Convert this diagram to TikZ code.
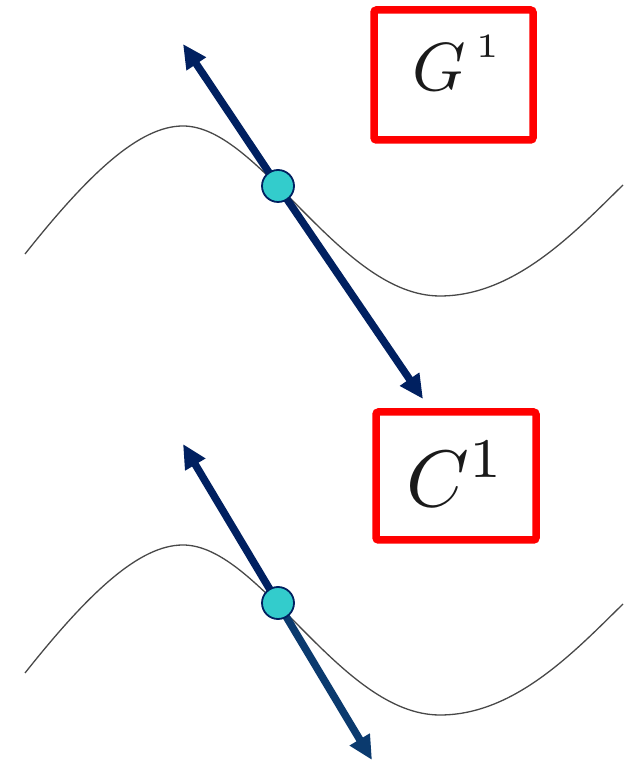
\documentclass[tikz,border=0pt]{standalone}
\usepackage{amsmath}
\usepackage{xcolor}
\usetikzlibrary{arrows.meta, positioning}
\definecolor{ink}{HTML}{1A1A1A}
\definecolor{navyA}{HTML}{002060}
\definecolor{navyB}{HTML}{0B3A6E}
\definecolor{tealA}{HTML}{33CCCC}
\definecolor{redA}{HTML}{FF0000}
\tikzset{
  wave/.style={draw=ink!80, line width=1.3pt},
  vec/.style={draw=navyA, line width=7.5pt, -{Triangle[length=24pt, width=22pt]}},
  dot/.style={circle, draw=navyA, line width=1.8pt, fill=tealA, minimum size=32pt, inner sep=0pt},
  redbox/.style={draw=redA, line width=7.5pt, rounded corners=2.5pt, minimum width=159pt, minimum height=130pt, inner sep=0pt},
  bigmath/.style={text=ink, inner sep=0pt, transform shape}
}

\begin{document}
\begin{tikzpicture}[x=1pt,y=1pt]
\useasboundingbox (0,0) rectangle (630,762);

% upper panel
\draw[wave] (25,508) .. controls (90,590) and (140,636) .. (183,636)
  .. controls (260,636) and (340,466) .. (440,466)
  .. controls (515,466) and (575,530) .. (623,577);
\coordinate (gp) at (278,576);
\coordinate (gtop) at (183,718);
\coordinate (gbot) at (423,363);
\draw[vec] (gp) -- (gtop);
\draw[vec] (gp) -- (gbot);
\node[dot] (gdot) at (gp) {};

\node[redbox] (gbox) at (453.5,687) {};
\node[bigmath, scale=6.8] (glabel) at ([xshift=4pt, yshift=12pt]gbox.center) {$G^{\,\raisebox{1.2pt}{$\scriptscriptstyle 1$}}$};

% lower panel
\draw[wave, shift={(0,-419)}] (25,508) .. controls (90,590) and (140,636) .. (183,636)
  .. controls (260,636) and (340,466) .. (440,466)
  .. controls (515,466) and (575,530) .. (623,577);
\coordinate (cp) at (278,159);
\coordinate (ctop) at (183,318);
\coordinate (cbot) at (372,2);
\draw[vec] (cp) -- (ctop);
\draw[vec, draw=navyB] (cp) -- (cbot);
\node[dot] (cdot) at (cp) {};

\node[redbox, minimum width=160pt, minimum height=128pt] (cbox) at (456,286) {};
\node[bigmath, scale=8] (clabel) at ([yshift=2pt]cbox.center) {$C^1$};

\end{tikzpicture}
\end{document}
